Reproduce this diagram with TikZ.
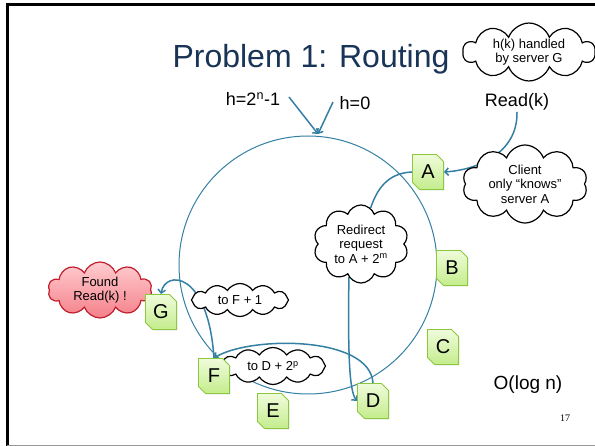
\documentclass[tikz,border=0pt]{standalone}
\usepackage{fontspec}
\setmainfont{Liberation Sans}
\newfontfamily\serifnum{Liberation Serif}
\usetikzlibrary{shapes.symbols,shapes.misc,arrows.meta,shadows}
\definecolor{ringcol}{RGB}{52,128,164}
\definecolor{titlecol}{RGB}{24,52,86}
\definecolor{boxborder}{RGB}{140,200,60}
\definecolor{boxtop}{RGB}{240,252,220}
\definecolor{boxbot}{RGB}{196,236,140}
\definecolor{redborder}{RGB}{192,30,45}
\definecolor{redtop}{RGB}{255,205,208}
\definecolor{redbot}{RGB}{245,128,138}
\pgfdeclarelayer{conn}
\pgfsetlayers{conn,main}
\begin{document}
\begin{tikzpicture}[x=1pt,y=-1pt,
  lbl/.style={inner sep=1pt, font=\fontsize{18}{20}\selectfont},
  srvbox/.style={chamfered rectangle, chamfered rectangle corners={north east,south west},
    chamfered rectangle sep=3.5pt, draw=boxborder, line width=0.9pt,
    top color=boxtop, bottom color=boxbot, minimum width=31pt, minimum height=35pt,
    inner sep=0pt, font=\fontsize{20}{20}\selectfont,
    drop shadow={shadow xshift=0.8pt, shadow yshift=-0.8pt, opacity=0.35}},
  cloudbox/.style={cloud, cloud puffs=10, cloud puff arc=140, cloud ignores aspect,
    draw=black, line width=1.2pt, fill=white, align=center, inner sep=0pt,
    font=\fontsize{13}{14.5}\selectfont},
  flatcloud/.style={cloudbox, cloud puffs=12, cloud puff arc=115},
  conn/.style={draw=ringcol, line width=1.5pt, -{Straight Barb[length=3.5pt,width=7.5pt]}}
]
\useasboundingbox (0,0) rectangle (595,446);
% slide frame
\draw[black, line width=2.5pt] (6,4.5) -- (595,4.5);
\draw[black, line width=2.5pt] (7.3,4) -- (7.3,446);
\draw[black!40, line width=1pt] (7,445.3) -- (595,445.3);

% title and labels
\node[font=\fontsize{32}{32}\selectfont, text=titlecol, anchor=base, inner sep=0pt] (title) at (311,68) {Problem 1: Routing};
\node[lbl, anchor=base] (hn) at (253,106) {h=2\textsuperscript{n}-1};
\node[lbl, anchor=base] (h0) at (355,110) {h=0};
\node[lbl, anchor=base] (readk) at (517,107) {Read(k)};
\node[lbl, font=\fontsize{19}{20}\selectfont] (olog) at (528,385) {O(log n)};
\node[inner sep=0pt, font=\serifnum\fontsize{10}{10}\selectfont] (pnum) at (565,418) {17};

% clouds
\node[cloudbox, minimum width=132pt, minimum height=56pt] (hk) at (529,52) {h(k) handled\\by server G};
\node[cloudbox, minimum width=125pt, minimum height=78pt] (client) at (525,184) {Client\\only “knows”\\server A};
\node[cloudbox, minimum width=95pt, minimum height=78pt] (redirect) at (361,244) {Redirect\\request\\to A + 2\textsuperscript{m}};
\node[flatcloud, minimum width=97pt, minimum height=33pt] (tof) at (240,300) {to F + 1};
\node[flatcloud, minimum width=105pt, minimum height=37pt] (tod) at (273,366) {to D + 2\textsuperscript{p}};
\node[cloudbox, draw=redborder, top color=redtop, bottom color=redbot, minimum width=104pt, minimum height=56pt] (found) at (100,290) {Found\\Read(k) !};

% servers
\node[srvbox] (A) at (428,172) {A};
\node[srvbox] (B) at (452,268) {B};
\node[srvbox] (C) at (443,347) {C};
\node[srvbox] (D) at (373,401) {D};
\node[srvbox] (E) at (273,411) {E};
\node[srvbox] (F) at (214,376) {F};
\node[srvbox] (G) at (161,312) {G};

\coordinate (ringtop) at (318,134);
\coordinate (hnstart) at (289,97);
\coordinate (h0start) at (333,102);

\begin{pgfonlayer}{conn}
  \draw[ringcol, line width=1pt] (308,265) circle [radius=129];
  \draw[conn] (hnstart) -- (ringtop);
  \draw[conn] (h0start) -- (ringtop);
  \draw[conn] (readk.south) .. controls +(1,42) and +(32,-2) .. (A.east);
  \draw[conn, -] (A.west) .. controls +(-25,1) and +(6,-18) .. (redirect.75);
  \draw[conn] (redirect.250) .. controls +(-1,75) and +(-8,-10) .. (D.west);
  \draw[conn] (D.north) .. controls +(-3,-48) and +(35,-22) .. (F.north);
  \draw[conn] (F.north) .. controls +(-6,-88) and +(4,-24) .. (G.north);
\end{pgfonlayer}
\end{tikzpicture}
\end{document}
